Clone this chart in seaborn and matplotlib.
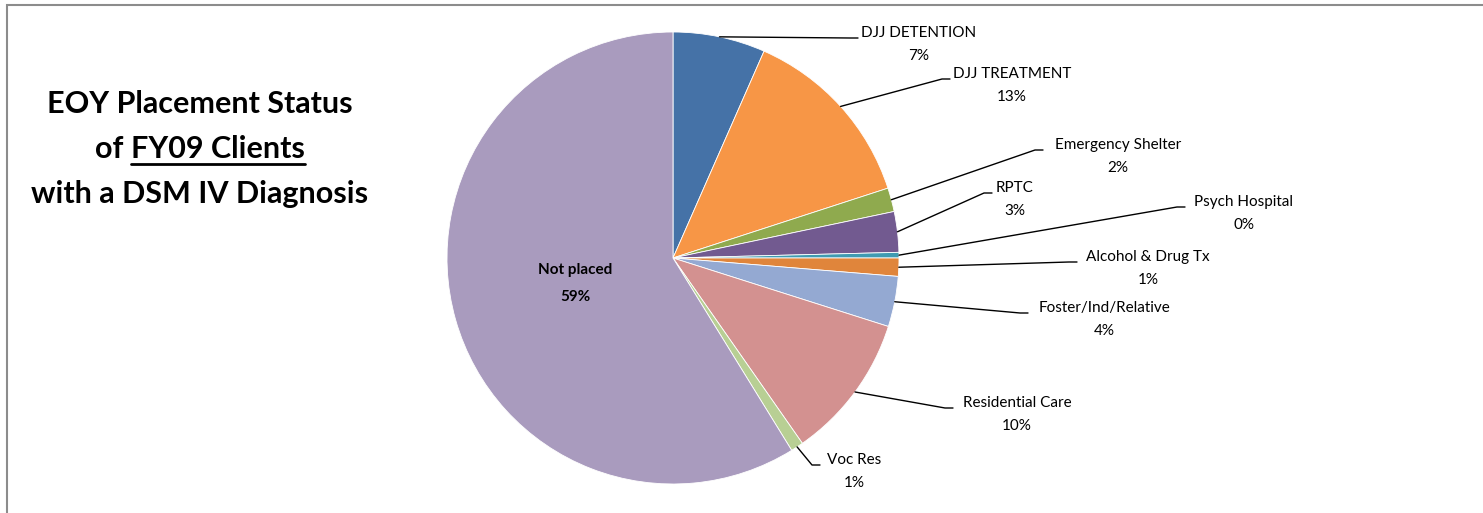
import numpy as np
import matplotlib
matplotlib.use("Agg")
import matplotlib.pyplot as plt
import seaborn as sns
from matplotlib.patches import Rectangle

# data (shares in %)
categories = ["DJJ DETENTION", "DJJ TREATMENT", "Emergency Shelter", "RPTC",
              "Psych Hospital", "Alcohol & Drug Tx", "Foster/Ind/Relative",
              "Residential Care", "Voc Res", "Not placed"]
shares = [6.6, 13.4, 1.7, 2.9, 0.4, 1.3, 3.6, 10.4, 0.9, 58.8]
pct_labels = ["7%", "13%", "2%", "3%", "0%", "1%", "4%", "10%", "1%", "59%"]

colors = sns.color_palette(["#4572A7", "#F79646", "#8FAA4E", "#725A90", "#3F9BB2",
                            "#E0853B", "#94A9D2", "#D39190", "#B8CF94", "#A99BBE"])

sns.set_theme(style="white")
plt.rcParams['font.family'] = ['Lato', 'DejaVu Sans']
plt.rcParams['text.color'] = 'black'

W, H = 1483, 513
fig = plt.figure(figsize=(W / 100, H / 100), dpi=100)
ax = fig.add_axes([0, 0, 1, 1])

cx, cy, r = 673, H - 258, 226
wedges, _ = ax.pie(shares, colors=colors, startangle=90, counterclock=False,
                   center=(cx, cy), radius=r, frame=True,
                   wedgeprops=dict(linewidth=0.6, edgecolor='white'))
ax.set_xlim(0, W)
ax.set_ylim(0, H)
ax.set_aspect('equal')
ax.axis('off')

# label layout (pixel positions: text center x, first line y, elbow x)
label_pos = {
    "DJJ DETENTION": (919, 33, 858),
    "DJJ TREATMENT": (1012, 74, 950),
    "Emergency Shelter": (1118, 145, 1043),
    "RPTC": (1015, 188, 992),
    "Psych Hospital": (1244, 202, 1185),
    "Alcohol & Drug Tx": (1148, 257, 1077),
    "Foster/Ind/Relative": (1104, 308, 1028),
    "Residential Care": (1017, 403, 953),
    "Voc Res": (854, 460, 820),
}

fs = 11
for w, name, pct in zip(wedges, categories, pct_labels):
    mid = np.deg2rad((w.theta1 + w.theta2) / 2)
    if name == "Not placed":
        ax.text(cx - 98, H - 270, name, ha='center', va='center',
                fontsize=fs, fontweight='bold')
        ax.text(cx - 98, H - 297, pct, ha='center', va='center',
                fontsize=fs, fontweight='bold')
        continue
    tx, ty, ex = label_pos[name]
    ax.text(tx, H - ty, name, ha='center', va='center', fontsize=fs)
    ax.text(tx, H - ty - 23, pct, ha='center', va='center', fontsize=fs)
    sx, sy = cx + r * np.cos(mid), cy + r * np.sin(mid)
    ey = H - ty - 5
    ax.plot([sx, ex - 8, ex], [sy, ey, ey], color='black', lw=1)

# title on the left, second line partly underlined
title_x = 200
tfs = 22
ax.text(title_x, H - 104, "EOY Placement Status", ha='center', va='center',
        fontsize=tfs, fontweight='bold')
ax.text(title_x, H - 194, "with a DSM IV Diagnosis", ha='center', va='center',
        fontsize=tfs, fontweight='bold')
t1 = ax.text(0, H - 149, "of ", ha='left', va='center', fontsize=tfs, fontweight='bold')
t2 = ax.text(0, H - 149, "FY09 Clients", ha='left', va='center', fontsize=tfs, fontweight='bold')
renderer = fig.canvas.get_renderer()
w1 = t1.get_window_extent(renderer).width
w2 = t2.get_window_extent(renderer).width
x0 = title_x - (w1 + w2) / 2
t1.set_x(x0)
t2.set_x(x0 + w1)
ax.plot([x0 + w1, x0 + w1 + w2], [H - 164, H - 164], color='black', lw=2)

# chart frame (top and left edges visible)
fig.add_artist(Rectangle((7 / W, -0.1), 2, (H - 5) / H + 0.1, transform=fig.transFigure,
                         fill=False, edgecolor='#8c8c8c', lw=1.5))

fig.savefig("out.png", dpi=100)
